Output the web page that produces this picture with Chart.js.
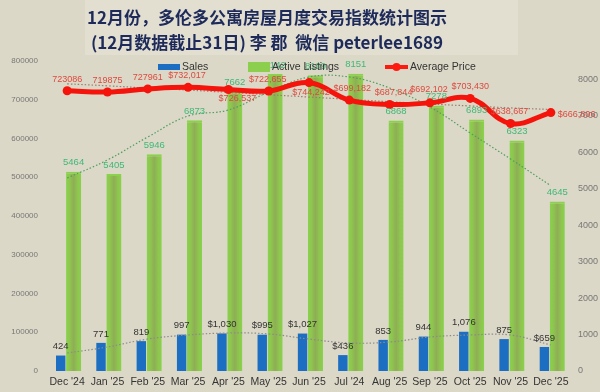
<!DOCTYPE html>
<html><head><meta charset="utf-8">
<script src="https://cdn.jsdelivr.net/npm/chart.js@4"></script>
<style>
html,body{margin:0;padding:0;background:#dcd8c7;}
#wrap{position:relative;width:600px;height:392px;overflow:hidden;}
#tbox{position:absolute;left:85px;top:0;width:433px;height:55px;background:#e2dfd1;}
#title{position:absolute;left:0;top:4px;width:534px;text-align:center;font-family:"Noto Sans CJK SC";font-weight:bold;font-size:17px;line-height:25px;color:#1d2a5a;white-space:nowrap;}
canvas{position:absolute;left:0;top:0;}
</style></head>
<body>
<div id="wrap">
<div id="tbox"></div>
<canvas id="c" width="600" height="392"></canvas>
<div id="title">12月份，多伦多公寓房屋月度交易指数统计图示<br>(12月数据截止31日) 李 郡&nbsp; 微信 peterlee1689</div>
</div>
<script>
const categories = ["Dec '24","Jan '25","Feb '25","Mar '25","Apr '25","May '25","Jun '25","Jul '24","Aug '25","Sep '25","Oct '25","Nov '25","Dec '25"];
const sales = [424,771,819,997,1030,995,1027,436,853,944,1076,875,659];
const salesLabelDollar = [false,false,false,false,true,true,true,true,false,false,false,false,true];
const listings = [5464,5405,5946,6873,7662,8142,8109,8151,6868,7278,6893,6323,4645];
const avgPrice = [723086,719875,727961,732017,726537,722655,744242,699182,687844,692102,703430,638667,666806];
const priceLabelDollar = [false,false,false,true,true,true,true,true,true,true,true,true,true];
const salesTrend = [494,658,877,987,1042,1015,877,768,795,932,987,987,713];
const listingsTrend = [5292,5786,6416,6992,7157,7650,8060,8061,7760,7239,6526,5813,5080];
const priceTrend = [741000,736000,730000,725000,719000,713000,707000,701000,695000,689000,684000,679000,675000];
const leftTicks = [0,100000,200000,300000,400000,500000,600000,700000,800000];
const rightTicks = [0,1000,2000,3000,4000,5000,6000,7000,8000];

// label placement (style, not data)
const priceLabelPlace = [[0,-11],[0,-12],[0,-11],[-1,-12],[9,9],[-1,-11],[2,10],[3,-12],[4,-12],[-1,-13],[0,-12],[-1,-12],[7,2,'left']];

function fmt(v){return v.toString().replace(/\B(?=(\d{3})+(?!\d))/g, ',');}

const labelsPlugin = {
  id:'labelsPlugin',
  beforeDatasetDraw(chart,args){
    if(args.index!==1) return;
    const ctx=chart.ctx;
    args.meta.data.forEach(el=>{
      const x=el.x, w=el.width;
      const g=ctx.createLinearGradient(x-w/2,0,x+w/2,0);
      g.addColorStop(0,'#86d34a');g.addColorStop(0.22,'#8fc64f');g.addColorStop(0.5,'#8eae55');g.addColorStop(0.78,'#8fc64f');g.addColorStop(1,'#86d34a');
      el.options = Object.assign({}, el.options, {backgroundColor:g});
    });
  },
  afterDatasetsDraw(chart){
    const ctx=chart.ctx;
    ctx.save();
    ctx.textAlign='center'; ctx.textBaseline='middle';
    ctx.font='9.5px "Liberation Sans"'; ctx.fillStyle='#333';
    chart.getDatasetMeta(0).data.forEach((el,i)=>{
      ctx.fillText((salesLabelDollar[i]?'$':'')+fmt(sales[i]), el.x, el.y-9);
    });
    ctx.font='9.5px "Liberation Sans"'; ctx.fillStyle='#3fb877';
    chart.getDatasetMeta(1).data.forEach((el,i)=>{
      ctx.fillText(String(listings[i]), el.x, el.y-9);
    });
    ctx.font='9px "Liberation Sans"'; ctx.fillStyle='#dc4a40';
    chart.getDatasetMeta(2).data.forEach((el,i)=>{
      const p=priceLabelPlace[i];
      ctx.textAlign=p[2]||'center';
      const t=priceLabelDollar[i]?'$'+fmt(avgPrice[i]):String(avgPrice[i]);
      ctx.fillText(t, el.x+p[0], el.y+p[1]);
    });
    ctx.restore();
  },
  afterDraw(chart){
    const ctx=chart.ctx;
    ctx.save();
    ctx.font='10.5px "Liberation Sans"'; ctx.fillStyle='#333'; ctx.textBaseline='middle'; ctx.textAlign='left';
    const ds=chart.data.datasets;
    ctx.fillStyle='#1b6ec2'; ctx.fillRect(158,64,22,6);
    ctx.fillStyle='#333'; ctx.fillText(ds[0].label,182,67);
    ctx.fillStyle='#8ccf4f'; ctx.fillRect(248,62,22,10);
    ctx.fillStyle='#333'; ctx.fillText(ds[1].label,272,67);
    ctx.strokeStyle='#ff1a0f'; ctx.lineWidth=4; ctx.beginPath(); ctx.moveTo(385,67); ctx.lineTo(408,67); ctx.stroke();
    ctx.fillStyle='#ff1a0f'; ctx.beginPath(); ctx.arc(396.5,67,4,0,Math.PI*2); ctx.fill();
    ctx.fillStyle='#333'; ctx.fillText(ds[2].label,410,67);
    ctx.restore();
  }
};

new Chart(document.getElementById('c'),{
  data:{
    labels:categories,
    datasets:[
      {type:'bar',label:'Sales',data:sales,yAxisID:'y2',backgroundColor:'#1b6ec2',categoryPercentage:0.64,barPercentage:0.73,order:5},
      {type:'bar',label:'Active Listings',data:listings,yAxisID:'y2',backgroundColor:'#8fbf52',borderColor:'#8bd24c',borderWidth:{top:2,left:0,right:0,bottom:0},borderSkipped:'start',categoryPercentage:0.64,barPercentage:1.17,order:6},
      {type:'line',label:'Average Price',data:avgPrice,yAxisID:'y',borderColor:'#f5140c',backgroundColor:'#f5140c',borderWidth:5,pointRadius:4.5,pointBackgroundColor:'#f5140c',pointBorderWidth:0,tension:0.4,order:0},
      {type:'line',label:'Sales trend',data:salesTrend,yAxisID:'y2',borderColor:'#8b8b8b',borderWidth:1.2,borderDash:[1.5,2],pointRadius:0,tension:0.4,order:2},
      {type:'line',label:'Listings trend',data:listingsTrend,yAxisID:'y2',borderColor:'#4f9e62',borderWidth:1.2,borderDash:[1.5,2],pointRadius:0,tension:0.4,order:2},
      {type:'line',label:'Price trend',data:priceTrend,yAxisID:'y',borderColor:'#a07a6e',borderWidth:1.2,borderDash:[1.5,2],pointRadius:0,tension:0.4,order:1}
    ]
  },
  options:{
    responsive:false,animation:false,devicePixelRatio:1,
    layout:{padding:{top:61,left:0,right:0,bottom:0}},
    plugins:{legend:{display:false},tooltip:{enabled:false},title:{display:false}},
    scales:{
      x:{grid:{display:false,drawTicks:false},border:{display:false},
         ticks:{font:{family:'Liberation Sans',size:10.5},color:'#333',padding:5,maxRotation:0,autoSkip:false},
         afterFit(s){s.height=21;}},
      y:{position:'left',min:0,max:800000,grid:{display:false,drawTicks:false},border:{display:false},
         afterBuildTicks(s){s.ticks=leftTicks.map(v=>({value:v}));},
         ticks:{font:{family:'Liberation Sans',size:8},color:'#777',padding:9,callback:v=>String(v)},
         afterFit(s){s.width=47;}},
      y2:{position:'right',min:0,max:8500,grid:{display:false,drawTicks:false},border:{display:false},
         afterBuildTicks(s){s.ticks=rightTicks.map(v=>({value:v}));},
         ticks:{font:{family:'Liberation Sans',size:9},color:'#777',padding:7,callback:v=>String(v)},
         afterFit(s){s.width=29;}}
    }
  },
  plugins:[labelsPlugin]
});
</script>
</body></html>
